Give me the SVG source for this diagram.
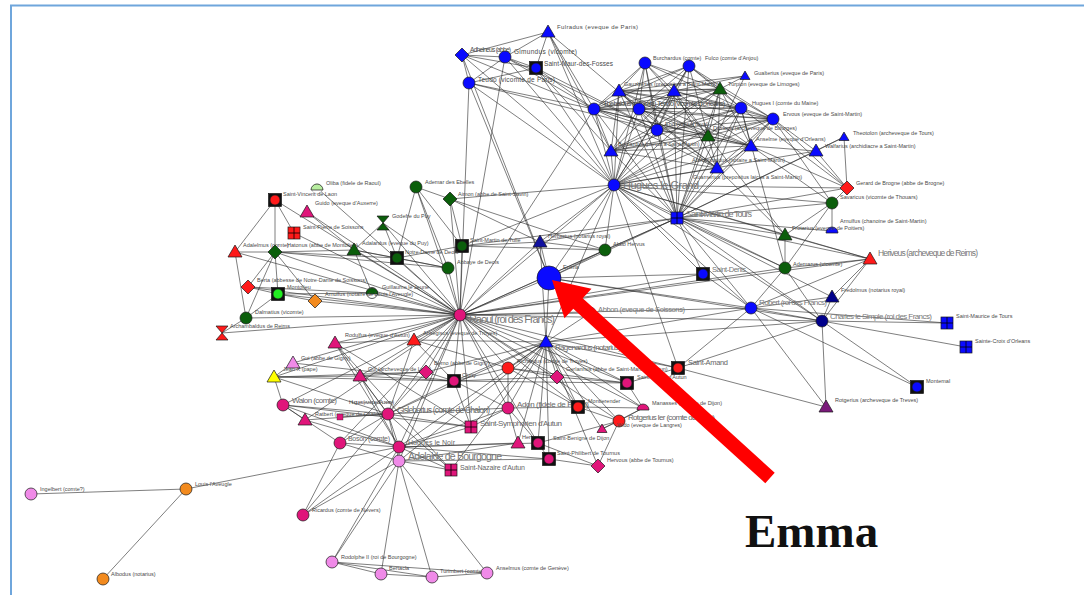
<svg xmlns="http://www.w3.org/2000/svg" width="1084" height="595" viewBox="0 0 1084 595">
<style>
.e{fill:none;stroke:#262626;stroke-width:.7;stroke-opacity:.85}
.n use,.n circle{stroke:#1a1a1a;stroke-width:.7}
text{font-family:"Liberation Sans",Arial,sans-serif;fill:#4a4a4a;font-size:5.5px}
.m{fill:#666}
.b{fill:#777}
</style>
<defs>
<circle id="c" r="6"/>
<path id="t" d="M0,-7L7,5H-7Z"/>
<path id="ts" d="M0,-5L5,3.5H-5Z"/>
<path id="d" d="M0,-7L7,0L0,7L-7,0Z"/>
<rect id="s" x="-6" y="-6" width="12" height="12"/>
<path id="h" d="M-6,-7H6L0,0L6,7H-6L0,0Z"/>
<path id="hc" d="M-6,2A6,6 0 0 1 6,2Z"/>
<g id="gs"><rect x="-6" y="-6" width="12" height="12"/><path d="M0,-6V6M-6,0H6" stroke="#000" stroke-width=".8"/></g>
<g id="bs"><rect x="-6.5" y="-6.5" width="13" height="13" fill="#111"/><circle r="5"/></g>
</defs>
<rect width="1084" height="595" fill="#fff"/>
<path d="M11,595V5.5H1084" fill="none" stroke="#6fa6dc" stroke-width="2"/>

<g id="connectors" class="e">
<path d="M460 315L275 200M460 315L307 212M460 315L383 223M460 315L294 233M460 315L235 252M460 315L275 252M460 315L354 250M460 315L397 258M460 315L448 268M460 315L248 287M460 315L278 294M460 315L372 293M460 315L315 301M460 315L246 318M460 315L222 333M460 315L335 343M460 315L414 340M460 315L360 376M460 315L426 372M460 315L454 381M460 315L283 405M460 315L305 420M460 315L388 414M460 315L340 443M460 315L399 447M460 315L399 461M460 315L471 427M460 315L546 342M460 315L508 368M460 315L557 377M460 315L627 383M460 315L508 408M460 315L578 407M460 315L614 185M460 315L549 278M460 315L540 242M460 315L462 246M460 315L450 199M460 315L416 187M460 315L605 250M460 315L678 368M460 315L751 308M460 315L822 321M460 315L870 259M460 315L703 274M460 315L469 83M460 315L594 109M460 315L274 377M460 315L293 363M460 315L317 188M460 315L590 313M460 315L677 218M460 315L619 421M460 315L643 408M460 315L538 443M460 315L505 57M460 315L785 268"/>
<path d="M614 185L594 109M614 185L619 91M614 185L639 109M614 185L657 130M614 185L611 151M614 185L708 136M614 185L717 168M614 185L674 91M614 185L645 63M614 185L689 66M614 185L741 108M614 185L773 119M614 185L751 146M614 185L677 218M614 185L549 278M614 185L540 242M614 185L605 250M614 185L751 308M614 185L703 274M614 185L785 268M614 185L469 83M614 185L505 57M614 185L462 55M614 185L536 68M614 185L548 32M614 185L462 246M614 185L870 259M614 185L832 203M614 185L822 321M614 185L546 342M614 185L678 368M614 185L785 235M614 185L720 89M614 185L816 151M614 185L450 199M614 185L847 188"/>
<path d="M594 109L619 91M594 109L674 91M594 109L720 89M594 109L639 109M594 109L741 108M594 109L773 119M594 109L657 130M594 109L708 136M594 109L751 146M594 109L611 151M594 109L717 168M594 109L645 63M594 109L689 66M619 91L674 91M619 91L720 89M619 91L639 109M619 91L741 108M619 91L773 119M619 91L657 130M619 91L708 136M619 91L751 146M619 91L611 151M619 91L717 168M619 91L645 63M619 91L689 66M619 91L745 76M674 91L720 89M674 91L639 109M674 91L741 108M674 91L773 119M674 91L657 130M674 91L708 136M674 91L751 146M674 91L611 151M674 91L717 168M674 91L645 63M674 91L689 66M674 91L745 76M720 89L639 109M720 89L741 108M720 89L773 119M720 89L657 130M720 89L708 136M720 89L751 146M720 89L611 151M720 89L717 168M720 89L645 63M720 89L689 66M720 89L745 76M639 109L741 108M639 109L773 119M639 109L657 130M639 109L708 136M639 109L751 146M639 109L611 151M639 109L717 168M741 108L657 130M741 108L708 136M741 108L751 146M741 108L611 151M741 108L717 168M741 108L773 119M773 119L657 130M773 119L708 136M773 119L751 146M773 119L611 151M773 119L717 168M657 130L708 136M657 130L751 146M657 130L611 151M657 130L717 168M708 136L751 146M708 136L611 151M708 136L717 168M751 146L611 151M751 146L717 168M611 151L717 168M645 63L639 109M645 63L741 108M645 63L657 130M645 63L708 136M689 66L639 109M689 66L741 108M689 66L657 130M689 66L708 136M689 66L773 119"/>
<path d="M677 218L619 91M677 218L674 91M677 218L720 89M677 218L639 109M677 218L741 108M677 218L773 119M677 218L657 130M677 218L708 136M677 218L751 146M677 218L611 151M677 218L717 168M677 218L594 109M677 218L645 63M677 218L689 66M677 218L745 76M677 218L816 151M677 218L847 188M677 218L832 203M677 218L832 231M677 218L785 235M677 218L785 268M677 218L870 259M677 218L703 274M677 218L751 308M677 218L822 321M677 218L832 297M677 218L549 278M677 218L605 250M677 218L540 242M677 218L462 246M677 218L844 137"/>
<path d="M548 32L462 55M548 32L505 57M548 32L536 68M548 32L594 109M548 32L611 151M548 32L639 109M462 55L505 57M462 55L469 83M462 55L536 68M462 55L594 109M462 55L549 278M505 57L469 83M505 57L536 68M505 57L594 109M505 57L657 130M469 83L594 109M469 83L536 68M469 83L657 130M469 83L549 278M536 68L594 109M536 68L657 130M536 68L611 151"/>
<path d="M847 188L844 137M847 188L816 151M847 188L832 203M847 188L773 119M847 188L741 108M847 188L751 146M832 203L785 235M832 203L785 268M832 203L773 119M832 203L751 146M832 203L832 231M870 259L785 268M870 259L785 235M870 259L751 308M870 259L822 321M870 259L832 297M832 297L822 321M832 297L751 308M917 387L751 308M917 387L822 321M826 407L751 308M826 407L822 321M826 407L678 368M947 323L822 321M947 323L751 308M966 347L822 321M678 368L546 342M678 368L822 321M678 368L751 308M678 368L627 383M703 274L751 308M703 274L549 278M785 268L785 235M785 268L751 308M785 268L822 321M816 151L844 137M816 151L751 146M816 151L773 119M751 308L822 321M717 168L785 235M708 136L785 235M741 108L785 268"/>
<path d="M549 278L540 242M549 278L605 250M549 278L751 308M549 278L822 321M549 278L546 342M549 278L590 313"/>
<path d="M546 342L508 368M546 342L557 377M546 342L627 383M546 342L508 408M546 342L578 407M546 342L643 408M546 342L619 421M546 342L602 429M546 342L518 443M546 342L538 443M546 342L549 459M546 342L598 466M546 342L471 427M546 342L454 381M546 342L426 372M546 342L388 414M546 342L399 447M546 342L399 461M546 342L451 470M546 342L414 340M546 342L590 313M546 342L822 321M546 342L751 308M546 342L540 242"/>
<path d="M454 381L360 376M454 381L426 372M454 381L274 377M454 381L293 363M454 381L388 414M454 381L508 408M454 381L471 427M454 381L557 377M454 381L627 383M454 381L508 368M274 377L293 363M274 377L426 372M274 377L360 376M274 377L283 405M274 377L388 414M388 414L399 447M388 414L399 461M388 414L340 443M388 414L283 405M388 414L305 420M388 414L471 427M388 414L451 470M388 414L303 515M388 414L508 408M388 414L360 376M388 414L340 417M399 447L399 461M399 447L340 443M399 447L283 405M399 447L305 420M399 447L471 427M399 447L451 470M399 447L303 515M399 447L186 489M399 447L332 562M399 447L508 408M399 447L518 443M399 447L538 443M399 447L549 459M399 461L332 562M399 461L381 574M399 461L432 577M399 461L487 573M399 461L303 515M399 461L451 470M399 461L340 443M399 461L518 443M399 461L549 459M186 489L31 494M186 489L103 579M332 562L381 574M332 562L432 577M381 574L432 577M432 577L487 573M332 562L487 573M283 405L305 420M283 405L340 443M283 405L471 427M508 368L508 408M508 368L578 407M508 368L414 340M508 368L557 377M508 368L627 383M508 408L471 427M508 408L518 443M508 408L538 443M508 408L578 407M538 443L549 459M538 443L598 466M549 459L598 466M643 408L578 407M643 408L619 421M643 408L627 383M643 408L602 429M619 421L578 407M619 421L602 429M619 421L538 443M619 421L598 466M557 377L627 383M557 377L578 407M414 340L454 381M414 340L388 414M414 340L335 343M335 343L388 414M335 343L471 427M335 343L451 470M335 343L399 447M360 376L426 372M360 376L399 447M426 372L388 414M303 515L340 443"/>
<path d="M275 200L235 252M275 200L275 252M275 200L294 233M235 252L275 252M235 252L246 318M275 252L248 287M275 252L278 294M275 252L246 318M275 252L354 250M275 252L448 268M275 252L397 258M275 252L315 301M354 250L383 223M354 250L372 293M354 250L397 258M354 250L448 268M383 223L397 258M383 223L448 268M397 258L462 246M397 258L448 268M397 258L416 187M416 187L450 199M416 187L462 246M416 187L448 268M450 199L462 246M450 199L540 242M450 199L605 250M462 246L540 242M462 246L605 250M248 287L278 294M248 287L372 293M278 294L315 301M278 294L372 293M278 294L246 318M222 333L246 318M540 242L605 250M307 212L354 250"/>
</g>

<g id="nodes" class="n">
<g id="n-ful"><use href="#t" x="548" y="32" fill="#0a0aff"/><text x="557" y="29" style="font-size:6px" textLength="81">Fulradus (eveque de Paris)</text></g>
<g id="n-adh"><use href="#d" x="462" y="55" fill="#0a0aff"/><text x="470" y="52" style="font-size:6.5px" textLength="41">Adhelneus (abbe)</text></g>
<g id="n-gim"><use href="#c" x="505" y="57" fill="#0a0aff"/><text x="514" y="54" style="font-size:6.5px" textLength="63">Gimundus (vicomte)</text></g>
<g id="n-smf"><use href="#bs" x="536" y="68" fill="#0a0aff"/><text x="544" y="66" style="font-size:6.5px" textLength="69">Saint-Maur-des-Fosses</text></g>
<g id="n-teu"><use href="#c" x="469" y="83" fill="#0a0aff"/><text x="478" y="82" style="font-size:6.5px" textLength="77">Teudo (vicomte de Paris)</text></g>
<g id="n-theb"><use href="#c" x="594" y="109" fill="#0a0aff"/><text x="603" y="106" style="font-size:7px" textLength="122">Thebaldus (vicomte) Teudo (vicomte d'Orleans)</text></g>
<g id="n-bur"><use href="#c" x="645" y="63" fill="#0a0aff"/><text x="653" y="60">Burchardus (comte)</text></g>
<g id="n-fulc"><use href="#c" x="689" y="66" fill="#0a0aff"/><text x="705" y="60">Fulco (comte d'Anjou)</text></g>
<g id="n-gua"><use href="#ts" x="745" y="76" fill="#0a0aff"/><text x="754" y="75">Gualterius (eveque de Paris)</text></g>
<g id="n-gau"><use href="#t" x="619" y="91" fill="#0a0aff"/><text x="624" y="86">Gauzbertus (prepositus a Saint-Martin)</text></g>
<g id="n-t2"><use href="#t" x="674" y="91" fill="#0a0aff"/></g>
<g id="n-g1"><use href="#t" x="720" y="89" fill="#0b5e0b"/><text x="728" y="86">Turpion (eveque de Limoges)</text></g>
<g id="n-c1"><use href="#c" x="639" y="109" fill="#0a0aff"/></g>
<g id="n-hm"><use href="#c" x="741" y="108" fill="#0a0aff"/><text x="752" y="105">Hugues I (comte du Maine)</text></g>
<g id="n-erv"><use href="#c" x="773" y="119" fill="#0a0aff"/><text x="783" y="116">Ervous (eveque de Saint-Martin)</text></g>
<g id="n-ebo"><use href="#c" x="657" y="130" fill="#0a0aff"/><text x="665" y="126">Ebo (vassal royal)</text></g>
<g id="n-g2"><use href="#t" x="708" y="136" fill="#0b5e0b"/><text x="713" y="130">Dicnone (archeveque de Bourges)</text></g>
<g id="n-ans"><use href="#t" x="751" y="146" fill="#0a0aff"/><text x="756" y="141">Anselme (eveque d'Orleans)</text></g>
<g id="n-ber"><use href="#t" x="611" y="151" fill="#0a0aff"/><text x="618" y="146">Bernardus (prevot a Saint-Martin)</text></g>
<g id="n-wal"><use href="#t" x="816" y="151" fill="#0a0aff"/><text x="825" y="148">Walfarius (archidiacre a Saint-Martin)</text></g>
<g id="n-theo"><use href="#ts" x="844" y="137" fill="#0a0aff"/><text x="853" y="135">Theotolon (archeveque de Tours)</text></g>
<g id="n-arc"><use href="#t" x="717" y="168" fill="#0a0aff"/><text x="692" y="162">Archambaldus (notaire a Saint-Martin)</text><text x="693" y="179">Guarnerius (prepositus laicus a Saint-Martin)</text></g>
<g id="n-hg"><use href="#c" x="614" y="185" fill="#0a0aff"/><text class="b" x="623" y="189" style="font-size:11px" textLength="76">Hugues le Grand</text></g>
<g id="n-ger"><use href="#d" x="847" y="188" fill="#ff1a1a"/><text x="856" y="185">Gerard de Brogne (abbe de Brogne)</text></g>
<g id="n-sav"><use href="#c" x="832" y="203" fill="#0b5e0b"/><text x="840" y="199">Savaricus (vicomte de Thouars)</text></g>
<g id="n-arn"><use href="#hc" x="832" y="231" fill="#0a0aff"/><text x="840" y="223">Arnulfus (chanoine de Saint-Martin)</text></g>
<g id="n-fro"><use href="#t" x="785" y="235" fill="#0b5e0b"/><text x="792" y="230">Frotarius (eveque de Poitiers)</text></g>
<g id="n-smt"><use href="#gs" x="677" y="218" fill="#0a0aff"/><text class="b" x="686" y="217" style="font-size:9px" textLength="66">Saint-Martin de Tours</text></g>
<g id="n-her"><use href="#t" x="870" y="259" fill="#ff1a1a"/><text class="b" x="878" y="256" style="font-size:8.5px" textLength="100">Heriveus (archeveque de Reims)</text></g>
<g id="n-ade"><use href="#c" x="785" y="268" fill="#0b5e0b"/><text x="793" y="266">Ademarus (vicomte)</text></g>
<g id="n-sde"><use href="#bs" x="703" y="274" fill="#0a0aff"/><text class="b" x="712" y="272" style="font-size:7.5px" textLength="34">Saint-Denis</text></g>
<g id="n-fre"><use href="#t" x="832" y="297" fill="#00008b"/><text x="841" y="292">Fredolmus (notarius royal)</text></g>
<g id="n-rob"><use href="#c" x="751" y="308" fill="#0a0aff"/><text class="b" x="759" y="305" style="font-size:8px" textLength="68">Robert (roi des Francs)</text></g>
<g id="n-cha"><use href="#c" x="822" y="321" fill="#00008b"/><text class="b" x="830" y="319" style="font-size:8px" textLength="102">Charles le Simple (roi des Francs)</text></g>
<g id="n-smau"><use href="#gs" x="947" y="323" fill="#0a0aff"/><text x="956" y="318">Saint-Maurice de Tours</text></g>
<g id="n-scr"><use href="#gs" x="966" y="347" fill="#0a0aff"/><text x="975" y="343">Sainte-Croix d'Orleans</text></g>
<g id="n-mon"><use href="#bs" x="917" y="387" fill="#0a0aff"/><text x="926" y="383">Montemal</text></g>
<g id="n-rot"><use href="#t" x="826" y="407" fill="#7a1a7a"/><text x="835" y="402">Rotgerius (archeveque de Treves)</text></g>
<g id="n-herb"><use href="#t" x="540" y="242" fill="#1010a0"/><text x="548" y="238">Herbertus (notarius royal)</text></g>
<g id="n-abbo"><use href="#c" x="605" y="250" fill="#0b5e0b"/><text x="613" y="246">Abbo Hervus</text></g>
<g id="n-smtu"><use href="#bs" x="462" y="246" fill="#0b5e0b"/><text x="470" y="242">Saint-Martin de Tulle</text></g>
<g id="n-aim"><use href="#d" x="450" y="199" fill="#0b5e0b"/><text x="458" y="196">Aimon (abbe de Saint-Savin)</text></g>
<g id="n-adem"><use href="#c" x="416" y="187" fill="#0b5e0b"/><text x="425" y="184">Ademar des Ebelles</text></g>
<g id="n-abd"><use href="#c" x="448" y="268" fill="#0b5e0b"/><text x="457" y="264">Abbaye de Deols</text></g>
<g id="n-nd"><use href="#bs" x="397" y="258" fill="#0b5e0b"/><text x="405" y="254">Notre-Dame de Deols</text></g>
<g id="n-abbon"><use href="#c" x="590" y="313" fill="#0a0aff"/><text class="b" x="598" y="312" style="font-size:7.5px" textLength="87">Abbon (eveque de Soissons)</text></g>
<g id="n-raoul"><use href="#c" x="460" y="315" fill="#e0157a"/><text class="b" x="469" y="323" style="font-size:11px" textLength="86">Raoul (roi des Francs)</text></g>
<g id="n-oli"><circle cx="317" cy="189" r="5" fill="#fff" stroke-opacity=".3"/><use href="#hc" x="317" y="188" fill="#b8eea0"/><text x="326" y="185">Oliba (fidele de Raoul)</text></g>
<g id="n-svl"><use href="#bs" x="275" y="200" fill="#ff1a1a"/><text x="283" y="196">Saint-Vincent de Laon</text></g>
<g id="n-gui"><use href="#t" x="307" y="212" fill="#e0157a"/><text x="315" y="205">Guido (eveque d'Auxerre)</text></g>
<g id="n-god"><use href="#h" x="383" y="223" fill="#0b5e0b"/><text x="392" y="218">Godefre du Puy</text></g>
<g id="n-spi"><use href="#gs" x="294" y="233" fill="#ff1a1a"/><text x="303" y="229">Saint-Pierre de Soissons</text></g>
<g id="n-adal"><use href="#t" x="235" y="252" fill="#ff1a1a"/><text x="243" y="247">Adalelmus (comte)</text></g>
<g id="n-hat"><use href="#d" x="275" y="252" fill="#0b5e0b"/><text x="287" y="247">Hatonus (abbe de Montolieu)</text></g>
<g id="n-adar"><use href="#t" x="354" y="250" fill="#0b5e0b"/><text x="362" y="245">Adalardus (eveque du Puy)</text></g>
<g id="n-berta"><use href="#d" x="248" y="287" fill="#ff1a1a"/><text x="257" y="282">Berta (abbesse de Notre-Dame de Soissons)</text></g>
<g id="n-mtl"><use href="#bs" x="278" y="294" fill="#22ee22"/><text x="287" y="289">Montolieu</text></g>
<g id="n-gj"><circle cx="372" cy="293" r="5.5" fill="#fff"/><use href="#hc" x="372" y="292" fill="#0b5e0b"/><text x="382" y="289">Guillaume le Jeune</text></g>
<g id="n-arnl"><use href="#d" x="315" y="301" fill="#f28a1e"/><text x="325" y="296">Arnulfus (notaire de Louis l'Aveugle)</text></g>
<g id="n-dal"><use href="#c" x="246" y="318" fill="#0b5e0b"/><text x="255" y="314">Dalmatius (vicomte)</text></g>
<g id="n-arch"><use href="#h" x="222" y="333" fill="#ff1a1a"/><text x="230" y="328">Archambaldus de Reims</text></g>
<g id="n-rod"><use href="#t" x="335" y="343" fill="#e0157a"/><text x="345" y="337">Rodulfus (eveque d'Autun)</text></g>
<g id="n-ansg"><use href="#t" x="414" y="340" fill="#ff1a1a"/><text x="423" y="335">Ansegisus (eveque de Troyes)</text></g>
<g id="n-guig"><use href="#t" x="293" y="363" fill="#f08ae8"/><text x="301" y="360">Gui (abbe de Gigny)</text></g>
<g id="n-jean"><use href="#t" x="274" y="377" fill="#ffff00"/><text x="283" y="371">Jean X (pape)</text></g>
<g id="n-guil"><use href="#t" x="360" y="376" fill="#e0157a"/><text x="368" y="371">Gui (archeveque de Lyon)</text></g>
<g id="n-bern"><use href="#d" x="426" y="372" fill="#e0157a"/><text x="434" y="365">Berno (abbe de Gigny)</text></g>
<g id="n-clu"><use href="#bs" x="454" y="381" fill="#e0157a"/><text x="462" y="377">Cluny</text></g>
<g id="n-wal2"><use href="#c" x="283" y="405" fill="#e0157a"/><text class="m" x="292" y="403" style="font-size:8px" textLength="45">Walon (comte)</text></g>
<g id="n-rat"><use href="#t" x="305" y="420" fill="#e0157a"/><text x="315" y="416">Ratbert (eveque de Chalon)</text></g>
<g id="n-hue"><use href="#s" x="340" y="417" fill="#e0157a" transform="translate(340 417) scale(.5) translate(-340 -417)"/><text x="349" y="404" textLength="45">Hugues (eveque d'Auxerre)</text></g>
<g id="n-gisl"><use href="#c" x="388" y="414" fill="#e0157a"/><text class="m" x="397" y="413" style="font-size:8.5px" textLength="93">Gislebertus (comte de Chalon)</text></g>
<g id="n-ssy"><use href="#gs" x="471" y="427" fill="#e0157a"/><text class="m" x="480" y="426" style="font-size:8px" textLength="82">Saint-Symphorien d'Autun</text></g>
<g id="n-bos"><use href="#c" x="340" y="443" fill="#e0157a"/><text class="m" x="348" y="441" style="font-size:7px" textLength="42">Boson (comte)</text></g>
<g id="n-hln"><use href="#c" x="399" y="447" fill="#e0157a"/><text class="m" x="408" y="445" style="font-size:7px" textLength="47">Hugues le Noir</text></g>
<g id="n-adel"><use href="#c" x="399" y="461" fill="#f08ae8"/><text class="b" x="408" y="460" style="font-size:10.5px" textLength="94">Adelaide de Bourgogne</text></g>
<g id="n-sna"><use href="#gs" x="451" y="470" fill="#e0157a"/><text class="m" x="460" y="470" style="font-size:7px" textLength="65">Saint-Nazaire d'Autun</text></g>
<g id="n-rag"><use href="#t" x="546" y="342" fill="#0a0aff"/><text class="m" x="555" y="350" style="font-size:8px" textLength="66">Ragenardus (notarius)</text></g>
<g id="n-ric"><use href="#c" x="508" y="368" fill="#ff1a1a"/><text x="517" y="363">Richardus (comte de Troyes)</text></g>
<g id="n-ger2"><use href="#d" x="557" y="377" fill="#e0157a"/><text x="566" y="371">Gerlannus (abbe de Saint-Martin d'Autun)</text></g>
<g id="n-sma"><use href="#bs" x="627" y="383" fill="#e0157a"/><text x="637" y="379">Saint-Martin d'Autun</text></g>
<g id="n-sam"><use href="#bs" x="678" y="368" fill="#ff1a1a"/><text class="m" x="688" y="365" style="font-size:7.5px" textLength="40">Saint-Amand</text></g>
<g id="n-adon"><use href="#c" x="508" y="408" fill="#e0157a"/><text class="m" x="517" y="407" style="font-size:8px" textLength="72">Adon (fidele de Raoul)</text></g>
<g id="n-mtr"><use href="#bs" x="578" y="407" fill="#ff1a1a"/><text x="588" y="403">Montierender</text></g>
<g id="n-man"><use href="#hc" x="643" y="408" fill="#e0157a"/><text x="652" y="405">Manasses (eveque de Dijon)</text></g>
<g id="n-rotg"><use href="#c" x="619" y="421" fill="#ff1a1a"/><text class="m" x="628" y="420" style="font-size:8px" textLength="87">Rotgerius Ier (comte de Laon)</text></g>
<g id="n-wid"><use href="#ts" x="602" y="429" fill="#e0157a"/><text x="617" y="427">Wido (eveque de Langres)</text></g>
<g id="n-herv"><use href="#t" x="518" y="443" fill="#e0157a"/><text x="522" y="439">Hervous</text></g>
<g id="n-sbd"><use href="#bs" x="538" y="443" fill="#e0157a"/><text x="553" y="440">Saint-Benigne de Dijon</text></g>
<g id="n-sph"><use href="#bs" x="549" y="459" fill="#e0157a"/><text x="557" y="455">Saint-Philibert de Tournus</text></g>
<g id="n-hvt"><use href="#d" x="598" y="466" fill="#e0157a"/><text x="607" y="462">Hervous (abbe de Tournus)</text></g>
<g id="n-ing"><use href="#c" x="31" y="494" fill="#f08ae8"/><text x="40" y="491">Ingelbert (comte?)</text></g>
<g id="n-lou"><use href="#c" x="186" y="489" fill="#f28a1e"/><text x="195" y="486">Louis l'Aveugle</text></g>
<g id="n-alb"><use href="#c" x="103" y="579" fill="#f28a1e"/><text x="111" y="576">Albodus (notarius)</text></g>
<g id="n-ricn"><use href="#c" x="303" y="515" fill="#e0157a"/><text x="312" y="512">Ricardus (comte de Nevers)</text></g>
<g id="n-rodo"><use href="#c" x="332" y="562" fill="#f08ae8"/><text x="341" y="559">Rodolphe II (roi de Bourgogne)</text></g>
<g id="n-bert"><use href="#c" x="381" y="574" fill="#f08ae8"/><text x="389" y="570">Bertacla</text></g>
<g id="n-tur"><use href="#c" x="432" y="577" fill="#f08ae8"/><text x="440" y="573">Turimbert (comte)</text></g>
<g id="n-ansel"><use href="#c" x="487" y="573" fill="#f08ae8"/><text x="496" y="570">Anselmus (comte de Genève)</text></g>
<g id="n-emma"><circle cx="549" cy="278" r="12" fill="#0a0aff"/><text x="563" y="269">Emma</text></g>
</g>

<g id="callout">
<polygon points="552,280 591.5,288.7 582.7,298.3 774.7,472.8 765.3,483.2 573.3,308.7 564.5,318.3" fill="#ff0000"/>
<text x="745" y="547" style="font-family:'Liberation Serif','Times New Roman',serif;font-size:47px;font-weight:bold;fill:#111">Emma</text>
</g>
</svg>
